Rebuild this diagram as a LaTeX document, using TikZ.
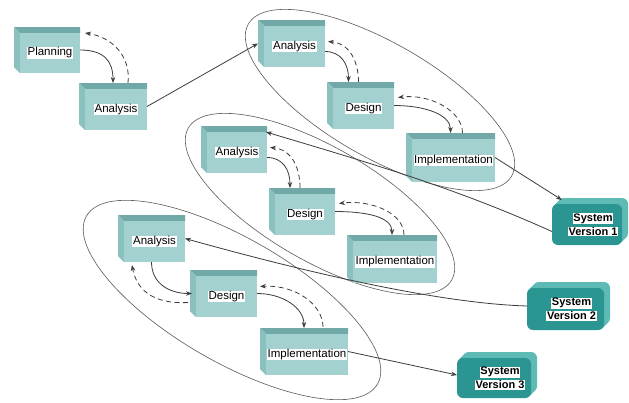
\documentclass[tikz,border=0pt]{standalone}
\usepackage{fontspec}
\setmainfont{Liberation Sans}
\usetikzlibrary{calc,arrows.meta}

\definecolor{frontc}{HTML}{A3D1CF}
\definecolor{topc}{HTML}{70A9A7}
\definecolor{sidec}{HTML}{8AC0BE}
\definecolor{sysfront}{HTML}{2A9591}
\definecolor{sysback}{HTML}{5DBAB5}
\definecolor{linec}{HTML}{3C3C3C}
\definecolor{loopc}{HTML}{5A5A5A}

% white highlight behind a label
\newcommand\hlbox[1]{{\setlength{\fboxsep}{0.6pt}\colorbox{white}{#1}}}

% bevelled phase box: name, x1, y1, x2, y2, label
\newcommand\phasebox[6]{%
  \node[outerbox, minimum width={(#4-#2)*1pt}, minimum height={(#5-#3)*1pt}]
    (#1) at ({(#2+#4)/2},{(#3+#5)/2}) {};
  \fill[topc] (#1.north west) -- (#1.north east) -- ($(#1.north east)+(0,6)$)
    -- ($(#1.north west)+(6,6)$) -- cycle;
  \fill[sidec] (#1.north west) -- ($(#1.north west)+(6,6)$)
    -- ($(#1.south west)+(6,0)$) -- ($(#1.south west)+(0,-6)$) -- cycle;
  \fill[frontc] ($(#1.north west)+(6,6)$) rectangle (#1.south east);
  \node[txt] (#1-t) at ($(#1.center)+(3,3)$) {#6};
}

% rounded system block: name, x1, y1, x2, y2, version
\newcommand\sysbox[6]{%
  \node[outerbox, minimum width={(#4-#2)*1pt}, minimum height={(#5-#3)*1pt}]
    (#1) at ({(#2+#4)/2},{(#3+#5)/2}) {};
  \foreach \s in {6,5.5,...,0.5}
    \fill[sysback, rounded corners=6pt] ($(#1.north west)+(\s,6-\s)$)
      rectangle ($(#1.south east)+(\s-6,-\s)$);
  \fill[sysfront, rounded corners=6pt] ($(#1.north west)+(0,6)$)
    rectangle ($(#1.south east)+(-6,0)$);
  \node[systxt] (#1-t) at ($(#1.center)+(3,3)$) {\hlbox{System}\\\hlbox{Version #6}};
}

\begin{document}
\begin{tikzpicture}[x=1pt,y=-1pt,
  outerbox/.style={draw=none, inner sep=0pt, outer sep=0pt},
  txt/.style={inner sep=0pt, text=black, font=\fontsize{11.5}{13}\selectfont},
  systxt/.style={inner sep=0pt, text=black, align=center,
    font=\bfseries\fontsize{11}{14}\selectfont},
  flow/.style={draw=linec, line width=0.8pt,
    -{Stealth[length=6pt,width=4.5pt]}},
  back/.style={flow, dash pattern=on 5pt off 3.5pt},
  loopline/.style={draw=loopc, line width=0.6pt}]
\useasboundingbox (0,0) rectangle (629,402);
\fill[white] (0,0) rectangle (629,402);

% iteration loops
\begin{scope}[shift={(380,100)}, rotate=-30]
  \draw[loopline] (0,0) ellipse [x radius=152pt, y radius=57pt];
\end{scope}
\begin{scope}[shift={(320,204)}, rotate=-30]
  \draw[loopline] (0,0) ellipse [x radius=152pt, y radius=57pt];
\end{scope}
\begin{scope}[shift={(232,300)}, rotate=-30]
  \draw[loopline] (0,0) ellipse [x radius=168pt, y radius=62pt];
\end{scope}

% phase boxes
\phasebox{plan}{14}{27}{80}{73}{\hlbox{Planning}}
\phasebox{an0}{79}{83}{147}{130}{\hlbox{Analysis}}

\phasebox{a1}{258}{20}{325}{67}{\hlbox{Analysis}}
\phasebox{d1}{327}{82}{394}{129}{\hlbox{Design}}
\phasebox{i1}{406}{133}{495}{182}{\hlbox{Implementation}}

\phasebox{a2}{201}{126}{267}{173}{\hlbox{Analysis}}
\phasebox{d2}{269}{188}{335}{235}{\hlbox{Design}}
\phasebox{i2}{347}{235}{437}{283}{\hlbox{Implementation}}

\phasebox{a3}{118}{215}{185}{262}{\hlbox{Analysis}}
\phasebox{d3}{190}{270}{257}{317}{\hlbox{Design}}
\phasebox{i3}{260}{328}{348}{375}{\hlbox{Implementation}}

% system versions
\sysbox{s1}{552}{198}{628}{245}{1}
\sysbox{s2}{527}{282}{610}{330}{2}
\sysbox{s3}{457}{352}{537}{398}{3}

% planning -> analysis
\draw[flow] (plan.east) .. controls +(24,0) and +(0,-22) .. (an0.north);
\draw[back] ($(an0.north)+(15,0)$) .. controls +(3,-28) and +(26,4) ..
  ($(plan.north east)+(5,6)$);
\draw[flow] (an0.east) -- (a1.west);

% first iteration
\draw[flow] ($(a1.east)+(0,8)$) .. controls +(16,0) and +(0,-18) .. ($(d1.north)+(-12,0)$);
\draw[back] ($(d1.north)+(-2,0)$) .. controls +(0,-20) and +(22,2) .. ($(a1.east)+(3,-2)$);
\draw[flow] (d1.east) .. controls +(32,0) and +(0,-18) .. (i1.north);
\draw[back] ($(i1.north)+(12,0)$) .. controls +(0,-22) and +(32,-4) .. ($(d1.east)+(4,-8)$);
\draw[flow] (i1.east) -- ($(s1.north west)+(10,2)$);

% second iteration
\draw[flow] ($(s1.west)+(0,10)$) .. controls +(-100,-45) and +(100,30) ..
  ($(a2.north east)+(-1,6)$);
\draw[flow] ($(a2.east)+(0,8)$) .. controls +(16,0) and +(0,-18) .. ($(d2.north)+(-12,0)$);
\draw[back] ($(d2.north)+(-2,0)$) .. controls +(0,-20) and +(22,2) .. ($(a2.east)+(3,-2)$);
\draw[flow] (d2.east) .. controls +(32,0) and +(0,-18) .. (i2.north);
\draw[back] ($(i2.north)+(12,0)$) .. controls +(0,-22) and +(32,-4) .. ($(d2.east)+(4,-8)$);

% third iteration
\draw[flow] (s2.west) .. controls +(-100,-3) and +(90,25) .. (a3.east);
\draw[flow] (a3.south) .. controls +(0,22) and +(-22,0) .. ($(d3.west)+(2,0)$);
\draw[back] ($(d3.west)+(-2,9)$) .. controls +(-38,2) and +(4,22) ..
  ($(a3.south west)+(14,3)$);
\draw[flow] (d3.east) .. controls +(26,0) and +(0,-20) .. (i3.north);
\draw[back] ($(i3.north)+(19,-1)$) .. controls +(0,-22) and +(36,-2) .. ($(d3.east)+(3,-7)$);
\draw[flow] (i3.east) -- (s3.west);
\end{tikzpicture}
\end{document}
